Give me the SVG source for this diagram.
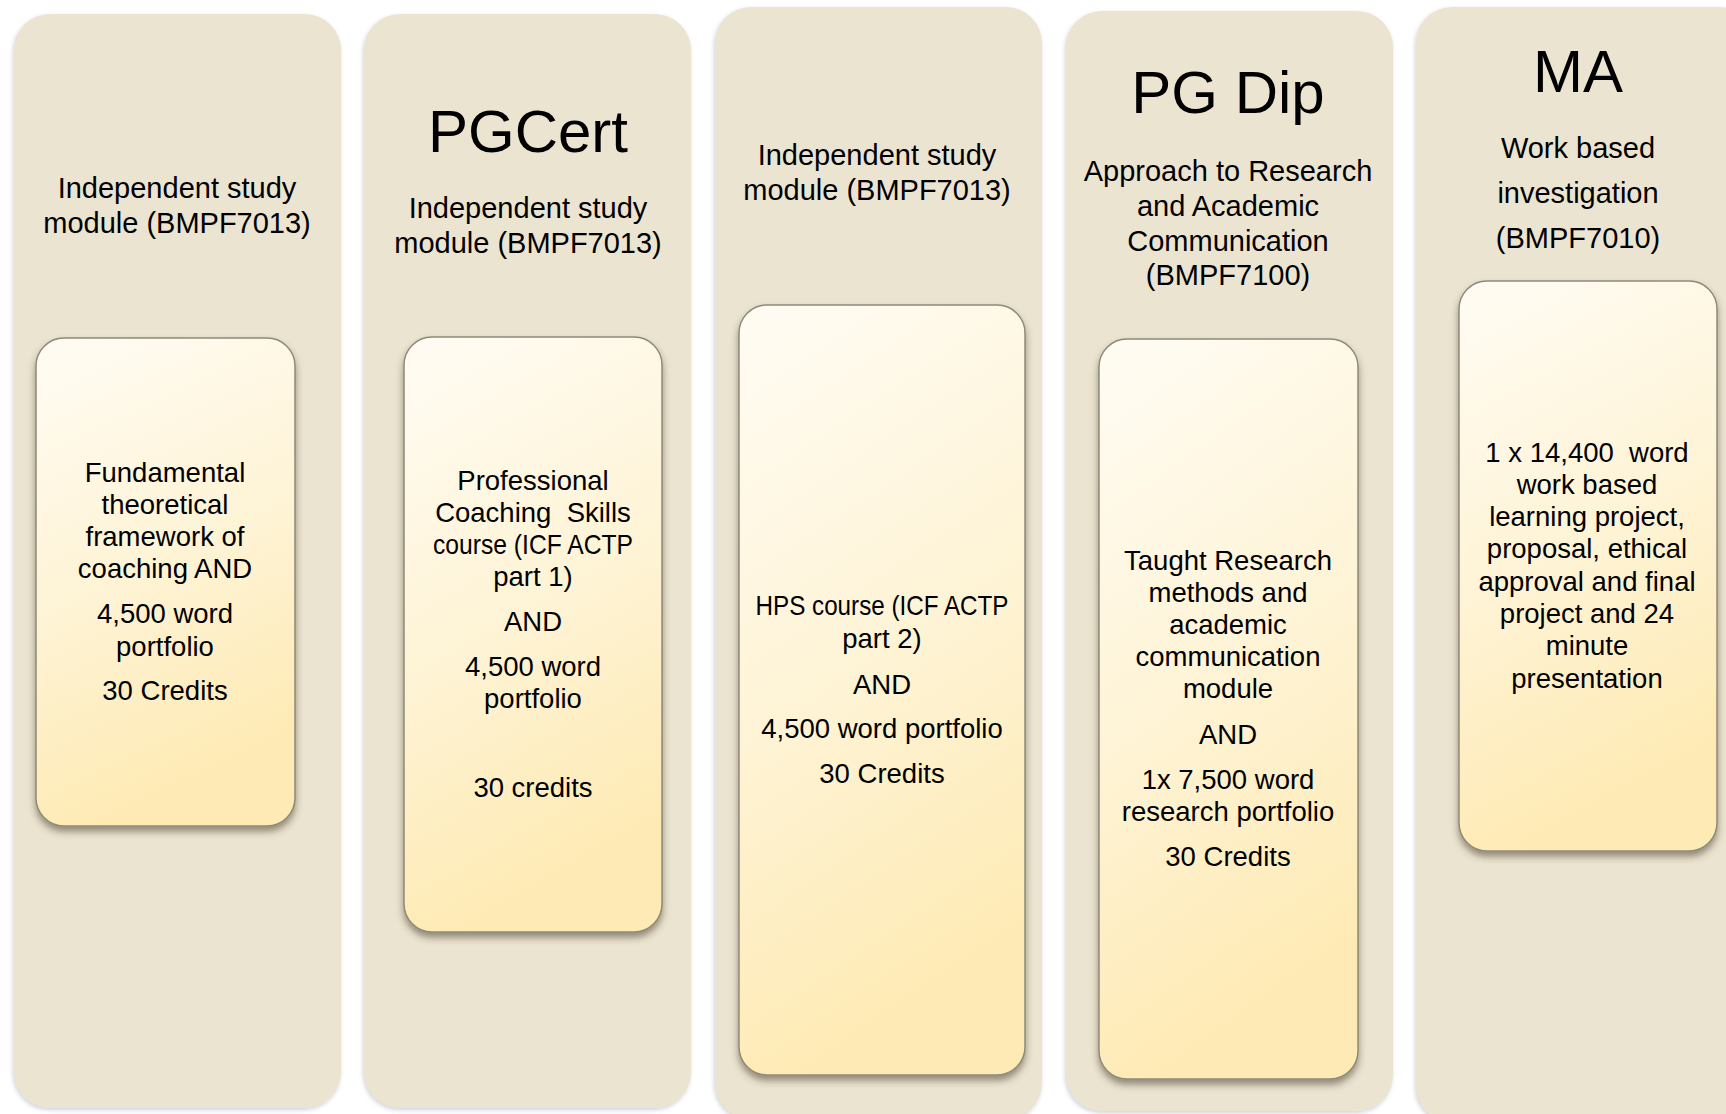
<svg xmlns="http://www.w3.org/2000/svg" width="1726" height="1114" viewBox="0 0 1726 1114">
<style>
.panel{fill:#EBE4D1;filter:url(#pshadow)}
.box{fill:url(#boxgrad);stroke:#8E8A78;stroke-width:1.5;filter:url(#bshadow)}
text{font-family:'Liberation Sans',Arial,sans-serif;fill:#000;text-anchor:middle;white-space:pre}
.hd{font-size:29px}
.bx{font-size:27.5px}
.big{font-size:60px}
</style>
<defs>
<linearGradient id="boxgrad" x1="0" y1="0" x2="0.25" y2="1">
<stop offset="0" stop-color="#FFFCF4"/>
<stop offset="0.5" stop-color="#FEF4D8"/>
<stop offset="1" stop-color="#FEEAB4"/>
</linearGradient>
<filter id="pshadow" x="-10%" y="-5%" width="120%" height="110%">
<feDropShadow dx="-1" dy="2" stdDeviation="2" flood-color="#7A8090" flood-opacity="0.35"/>
</filter>
<filter id="bshadow" x="-10%" y="-5%" width="120%" height="115%">
<feDropShadow dx="0" dy="5" stdDeviation="3.5" flood-color="#3A3320" flood-opacity="0.5"/>
</filter>
</defs>
<rect width="1726" height="1114" fill="#FFFFFF"/>

<g id="col1">
<rect class="panel" x="14" y="14" width="327" height="1094" rx="36"/>
<text class="hd"><tspan x="177" y="198">Independent study</tspan><tspan x="177" y="233">module (BMPF7013)</tspan></text>
<g id="box1">
<rect class="box" x="36" y="338" width="259" height="488" rx="28"/>
<text class="bx"><tspan x="165" y="482">Fundamental</tspan><tspan x="165" y="514">theoretical</tspan><tspan x="165" y="546">framework of</tspan><tspan x="165" y="578">coaching AND</tspan><tspan x="165" y="623">4,500 word</tspan><tspan x="165" y="656">portfolio</tspan><tspan x="165" y="700">30 Credits</tspan></text>
</g>
</g>

<g id="col2">
<rect class="panel" x="364" y="14" width="327" height="1094" rx="36"/>
<text class="big" x="528" y="152">PGCert</text>
<text class="hd"><tspan x="528" y="218">Independent study</tspan><tspan x="528" y="253">module (BMPF7013)</tspan></text>
<g id="box2">
<rect class="box" x="404" y="337" width="258" height="595" rx="28"/>
<text class="bx" x="533" y="490">Professional</text>
<text class="bx" x="533" y="522">Coaching  Skills</text>
<text class="bx" x="533" y="554" textLength="200" lengthAdjust="spacingAndGlyphs">course (ICF ACTP</text>
<text class="bx"><tspan x="533" y="586">part 1)</tspan><tspan x="533" y="631">AND</tspan><tspan x="533" y="676">4,500 word</tspan><tspan x="533" y="708">portfolio</tspan><tspan x="533" y="797">30 credits</tspan></text>
</g>
</g>

<g id="col3">
<rect class="panel" x="715" y="7" width="327" height="1112" rx="36"/>
<text class="hd"><tspan x="877" y="165">Independent study</tspan><tspan x="877" y="200">module (BMPF7013)</tspan></text>
<g id="box3">
<rect class="box" x="739" y="305" width="286" height="770" rx="28"/>
<text class="bx" x="882" y="615" textLength="253" lengthAdjust="spacingAndGlyphs">HPS course (ICF ACTP</text>
<text class="bx"><tspan x="882" y="648">part 2)</tspan><tspan x="882" y="694">AND</tspan><tspan x="882" y="738">4,500 word portfolio</tspan><tspan x="882" y="783">30 Credits</tspan></text>
</g>
</g>

<g id="col4">
<rect class="panel" x="1066" y="11" width="327" height="1100" rx="36"/>
<text class="big" x="1228" y="113">PG Dip</text>
<text class="hd"><tspan x="1228" y="181">Approach to Research</tspan><tspan x="1228" y="216">and Academic</tspan><tspan x="1228" y="251">Communication</tspan><tspan x="1228" y="285">(BMPF7100)</tspan></text>
<g id="box4">
<rect class="box" x="1099" y="339" width="259" height="740" rx="28"/>
<text class="bx"><tspan x="1228" y="570">Taught Research</tspan><tspan x="1228" y="602">methods and</tspan><tspan x="1228" y="634">academic</tspan><tspan x="1228" y="666">communication</tspan><tspan x="1228" y="698">module</tspan><tspan x="1228" y="744">AND</tspan><tspan x="1228" y="789">1x 7,500 word</tspan><tspan x="1228" y="821">research portfolio</tspan><tspan x="1228" y="866">30 Credits</tspan></text>
</g>
</g>

<g id="col5">
<rect class="panel" x="1416" y="7" width="340" height="1115" rx="36"/>
<text class="big" x="1578" y="92">MA</text>
<text class="hd"><tspan x="1578" y="158">Work based</tspan><tspan x="1578" y="203">investigation</tspan><tspan x="1578" y="248">(BMPF7010)</tspan></text>
<g id="box5">
<rect class="box" x="1459" y="281" width="258" height="570" rx="28"/>
<text class="bx"><tspan x="1587" y="462">1 x 14,400  word</tspan><tspan x="1587" y="494">work based</tspan><tspan x="1587" y="526">learning project,</tspan><tspan x="1587" y="558">proposal, ethical</tspan><tspan x="1587" y="591">approval and final</tspan><tspan x="1587" y="623">project and 24</tspan><tspan x="1587" y="655">minute</tspan><tspan x="1587" y="688">presentation</tspan></text>
</g>
</g>
</svg>
